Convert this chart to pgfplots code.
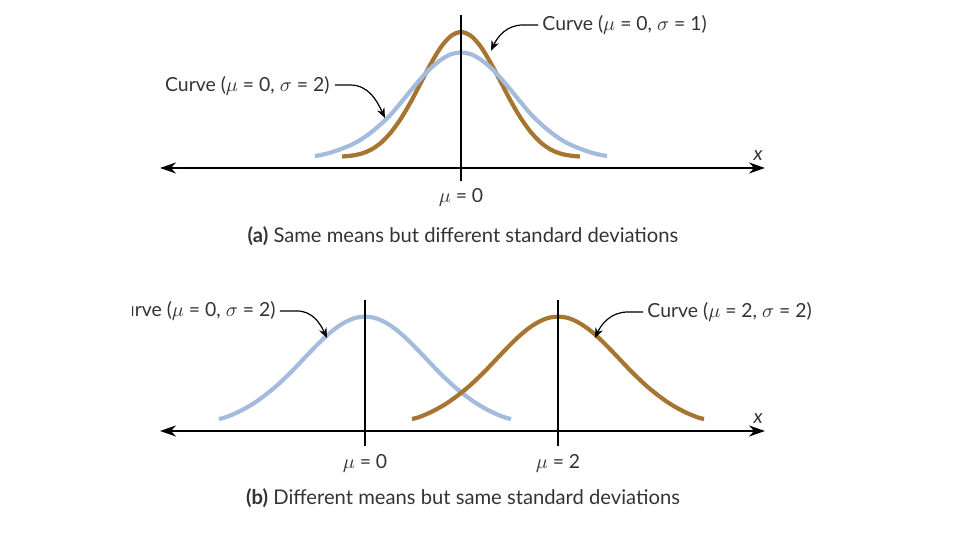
\documentclass[border=0pt]{standalone}
\usepackage{fontspec}
\setmainfont{Lato}
\usepackage{pgfplots}
\pgfplotsset{compat=1.18}
\usetikzlibrary{arrows.meta}
\definecolor{cbrown}{HTML}{A67532}
\definecolor{cblue}{HTML}{A3BCDD}
\definecolor{txt}{HTML}{333333}
\begin{document}
\begin{tikzpicture}[font=\fontsize{9.7}{11}\selectfont\color{txt}]
\tikzset{bigarrow/.style={line width=1.2pt, {Stealth[length=8pt,width=5.5pt]}-{Stealth[length=8pt,width=5.5pt]}},
 smallarrow/.style={line width=0.6pt, -{Stealth[length=5pt,width=4pt]}},
 capt/.style={font=\fontsize{10.1}{12}\selectfont\color{txt}}}
% ---------- panel (a) ----------
\begin{axis}[at={(230.5pt,186pt)}, anchor=origin, x=48.25pt, y=125pt,
  xmin=-3.2, xmax=3.2, ymin=-0.3, ymax=0.65, axis lines=none, clip=false]
\addplot[cbrown, line width=2.1pt, smooth] coordinates {
(-1.233,0.046) (-1.140,0.049) (-1.036,0.057) (-0.933,0.073) (-0.829,0.101) (-0.725,0.143)
(-0.622,0.198) (-0.518,0.266) (-0.415,0.342) (-0.311,0.418) (-0.207,0.484) (-0.104,0.528)
(0,0.544)
(0.104,0.528) (0.207,0.484) (0.311,0.418) (0.415,0.342) (0.518,0.266) (0.622,0.198)
(0.725,0.143) (0.829,0.101) (0.933,0.073) (1.036,0.057) (1.140,0.049) (1.233,0.046)};
\addplot[cblue, line width=2.1pt, smooth] coordinates {
(-1.513,0.048) (-1.451,0.052) (-1.347,0.062) (-1.244,0.076) (-1.140,0.092) (-1.036,0.114)
(-0.933,0.142) (-0.829,0.176) (-0.725,0.215) (-0.622,0.262) (-0.518,0.311) (-0.415,0.358)
(-0.311,0.400) (-0.207,0.433) (-0.104,0.455) (0,0.462)
(0.104,0.455) (0.207,0.433) (0.311,0.400) (0.415,0.358) (0.518,0.311) (0.622,0.262)
(0.725,0.215) (0.829,0.176) (0.933,0.142) (1.036,0.114) (1.140,0.092) (1.244,0.076)
(1.347,0.062) (1.451,0.052) (1.513,0.048)};
\draw[bigarrow, black] (axis cs:-3.119,0) -- (axis cs:3.150,0);
\draw[line width=1pt, black] (axis cs:0,-0.052) -- (axis cs:0,0.612);
\node at (axis cs:3.078,0.050) {\textit{x}};
\node at (axis cs:0,-0.116) {$\mu$ = 0};
\node[capt] at (axis cs:0.021,-0.272) {\textbf{(a)} Same means but different standard deviations};
\node[anchor=west, inner sep=1pt] at (axis cs:0.819,0.572) {Curve ($\mu$ = 0, $\sigma$ = 1)};
\draw[smallarrow] (axis cs:0.798,0.572) -- (axis cs:0.642,0.572) to[out=180,in=65] (axis cs:0.311,0.469);
\node[anchor=east, inner sep=1pt] at (axis cs:-1.337,0.330) {Curve ($\mu$ = 0, $\sigma$ = 2)};
\draw[smallarrow] (axis cs:-1.306,0.332) -- (axis cs:-1.150,0.332) to[out=0,in=115] (axis cs:-0.788,0.200);
\end{axis}
% ---------- panel (b) ----------
\begin{axis}[at={(182.5pt,54.5pt)}, anchor=origin, x=48.25pt, y=125pt,
  xmin=-2.2, xmax=4.2, ymin=-0.3, ymax=0.6, axis lines=none, clip=false]
\addplot[cblue, line width=2.1pt, smooth] coordinates {
(-1.513,0.048) (-1.451,0.054) (-1.347,0.070) (-1.244,0.090) (-1.140,0.114) (-1.036,0.143)
(-0.933,0.175) (-0.829,0.212) (-0.725,0.252) (-0.622,0.294) (-0.518,0.336) (-0.415,0.375)
(-0.311,0.409) (-0.207,0.435) (-0.104,0.452) (0,0.457)
(0.104,0.452) (0.207,0.435) (0.311,0.409) (0.415,0.375) (0.518,0.336) (0.622,0.294)
(0.725,0.252) (0.829,0.212) (0.933,0.175) (1.036,0.143) (1.140,0.114) (1.244,0.090)
(1.347,0.070) (1.451,0.054) (1.513,0.048)};
\addplot[cbrown, line width=2.1pt, smooth] coordinates {
(0.487,0.048) (0.549,0.054) (0.653,0.070) (0.756,0.090) (0.860,0.114) (0.964,0.143)
(1.067,0.175) (1.171,0.212) (1.275,0.252) (1.378,0.294) (1.482,0.336) (1.585,0.375)
(1.689,0.409) (1.793,0.435) (1.896,0.452) (2,0.457)
(2.104,0.452) (2.207,0.435) (2.311,0.409) (2.415,0.375) (2.518,0.336) (2.622,0.294)
(2.725,0.252) (2.829,0.212) (2.933,0.175) (3.036,0.143) (3.140,0.114) (3.244,0.090)
(3.347,0.070) (3.451,0.054) (3.513,0.048)};
\draw[bigarrow, black] (axis cs:-2.124,0) -- (axis cs:4.145,0);
\draw[line width=1pt, black] (axis cs:0,-0.06) -- (axis cs:0,0.524);
\draw[line width=1pt, black] (axis cs:2,-0.06) -- (axis cs:2,0.524);
\node at (axis cs:4.073,0.050) {\textit{x}};
\node at (axis cs:0,-0.128) {$\mu$ = 0};
\node at (axis cs:2,-0.128) {$\mu$ = 2};
\node[capt] at (axis cs:1.016,-0.268) {\textbf{(b)} Different means but same standard deviations};
\node[anchor=west, inner sep=1pt] at (axis cs:2.902,0.476) {Curve ($\mu$ = 2, $\sigma$ = 2)};
\draw[smallarrow] (axis cs:2.881,0.476) -- (axis cs:2.725,0.476) to[out=180,in=65] (axis cs:2.383,0.372);
\draw[smallarrow] (axis cs:-0.881,0.480) -- (axis cs:-0.705,0.480) to[out=0,in=115] (axis cs:-0.394,0.372);
\end{axis}
\begin{scope}
\clip (66pt,100pt) rectangle (145pt,130pt);
\node[anchor=east, inner sep=1pt] at (139pt,114.5pt) {Curve ($\mu$ = 0, $\sigma$ = 2)};
\end{scope}
\pgfresetboundingbox
\path (0,0) rectangle (480pt,270pt);
\end{tikzpicture}
\end{document}
